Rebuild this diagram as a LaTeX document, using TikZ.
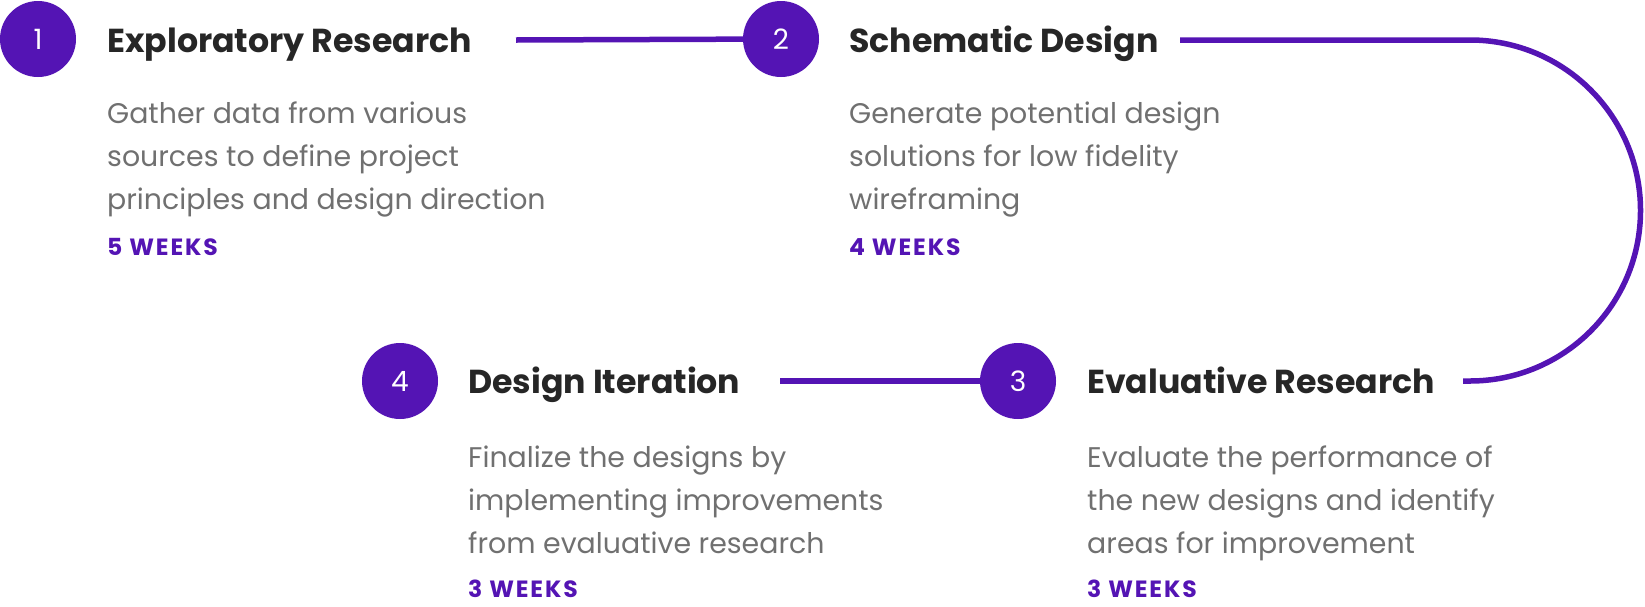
\documentclass[tikz,border=0pt]{standalone}
\usepackage{fontspec}
\setmainfont{Poppins}
\newfontfamily\headfont{Poppins}
\newfontfamily\weekfont{Poppins}[LetterSpace=8]
\usetikzlibrary{positioning}
\definecolor{stagepurple}{RGB}{84,20,180}
\definecolor{titlegray}{RGB}{38,38,38}
\definecolor{blurbgray}{RGB}{112,112,112}

\begin{document}
\begin{tikzpicture}[x=1pt, y=-1pt,
  stage/.style={circle, fill=stagepurple, minimum size=76pt, inner sep=0pt,
    text=white, font=\fontsize{28}{28}\selectfont},
  heading/.style={anchor=base west, inner sep=0pt, text=titlegray,
    font=\headfont\bfseries\fontsize{33.2}{34}\selectfont},
  blurb/.style={anchor=base west, inner sep=0pt, align=left, text=blurbgray,
    font=\fontsize{28.4}{43}\selectfont},
  weeks/.style={anchor=base west, inner sep=0pt, text=stagepurple,
    font=\weekfont\bfseries\fontsize{23.5}{24}\selectfont},
  link/.style={stagepurple, line width=5.5pt}]
  \useasboundingbox (0,0) rectangle (1645,606);

  % top row
  \node[stage] (n1) at (38,39) {1};
  \node[heading] (h1) at (107,52) {Exploratory Research};
  \node[blurb] (d1) at (107,209) {Gather data from various\\sources to define project\\principles and design direction};
  \node[weeks] (w1) at (107,255) {5 WEEKS};

  \node[stage] (n2) at (781,39) {2};
  \node[heading] (h2) at (849,52) {Schematic Design};
  \node[blurb] (d2) at (849,209) {Generate potential design\\solutions for low fidelity\\wireframing};
  \node[weeks] (w2) at (849,255) {4 WEEKS};

  % bottom row
  \node[stage] (n4) at (400,381) {4};
  \node[heading] (h4) at (468,393) {Design Iteration};
  \node[blurb] (d4) at (468,553) {Finalize the designs by\\implementing improvements\\from evaluative research};
  \node[weeks] (w4) at (468,597) {3 WEEKS};

  \node[stage] (n3) at (1018,381) {3};
  \node[heading] (h3) at (1087,393) {Evaluative Research};
  \node[blurb] (d3) at (1087,553) {Evaluate the performance of\\the new designs and identify\\areas for improvement};
  \node[weeks] (w3) at (1087,597) {3 WEEKS};

  % links
  \coordinate (e1) at (516,40);
  \coordinate (e2) at (1180,40);
  \coordinate (e3) at (1463,381);
  \coordinate (e4) at (780,381);
  \draw[link] (e1) -- (n2);
  \draw[link] (e2) -- (1470,40) arc[start angle=-90, end angle=90, radius=170.5] -- (e3);
  \draw[link] (e4) -- (n3);
\end{tikzpicture}
\end{document}
